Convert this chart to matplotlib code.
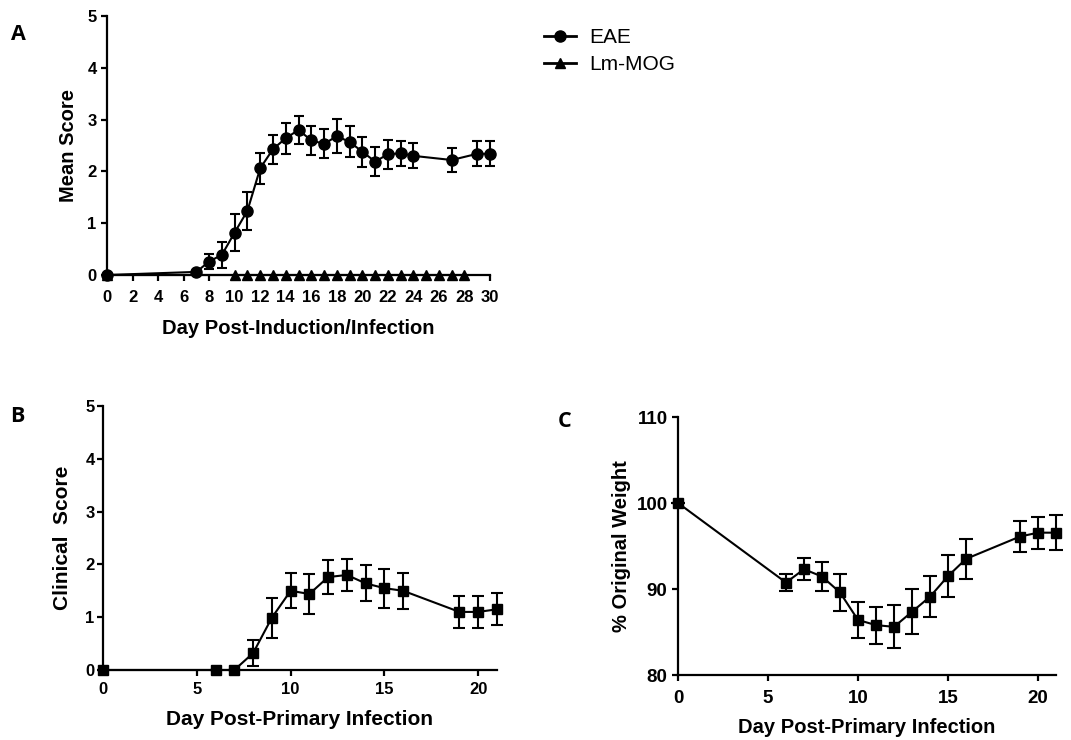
import numpy as np
import matplotlib
matplotlib.use("Agg")
import matplotlib.pyplot as plt
from matplotlib.lines import Line2D

plt.rcParams['font.family'] = ['Liberation Sans', 'DejaVu Sans']

# panel A: mean EAE score
eae_days = [0, 7, 8, 9, 10, 11, 12, 13, 14, 15, 16, 17, 18, 19, 20, 21, 22, 23, 24, 27, 29, 30]
eae_mean = [0.0, 0.06, 0.26, 0.39, 0.82, 1.24, 2.06, 2.43, 2.64, 2.8, 2.6, 2.53, 2.68, 2.57,
            2.38, 2.19, 2.33, 2.35, 2.3, 2.22, 2.34, 2.34]
eae_err = [0.0, 0.02, 0.15, 0.25, 0.35, 0.37, 0.3, 0.28, 0.3, 0.27, 0.28, 0.28, 0.33, 0.3,
           0.29, 0.28, 0.28, 0.24, 0.24, 0.23, 0.24, 0.24]
lm_days = [0] + list(range(10, 29))
lm_mean = [0.0] * len(lm_days)

# panel B: clinical score
b_days = [0, 6, 7, 8, 9, 10, 11, 12, 13, 14, 15, 16, 19, 20, 21]
b_mean = [0.0, 0.0, 0.0, 0.32, 0.99, 1.5, 1.44, 1.76, 1.8, 1.64, 1.55, 1.5, 1.1, 1.1, 1.15]
b_err = [0.0, 0.0, 0.0, 0.25, 0.38, 0.33, 0.37, 0.33, 0.31, 0.34, 0.37, 0.34, 0.3, 0.3, 0.3]

# panel C: weight
c_days = [0, 6, 7, 8, 9, 10, 11, 12, 13, 14, 15, 16, 19, 20, 21]
c_mean = [100.0, 90.75, 92.3, 91.45, 89.6, 86.4, 85.8, 85.6, 87.35, 89.1, 91.5, 93.5, 96.1, 96.55, 96.55]
c_err = [0.0, 0.95, 1.25, 1.65, 2.2, 2.1, 2.15, 2.5, 2.6, 2.4, 2.4, 2.3, 1.85, 1.85, 2.05]

W, H = 1071, 740
fig = plt.figure(figsize=(W / 100, H / 100), dpi=100)


def px_axes(x0, x1, ytop, ybot):
    return fig.add_axes([x0 / W, 1 - ybot / H, (x1 - x0) / W, (ybot - ytop) / H])


def style(ax, size, xpad, ypad):
    for s in ['top', 'right']:
        ax.spines[s].set_visible(False)
    for s in ['left', 'bottom']:
        ax.spines[s].set_linewidth(1.6)
    ax.tick_params(direction='out', length=4, width=1.6, labelsize=size)
    ax.tick_params(axis='x', pad=xpad)
    ax.tick_params(axis='y', pad=ypad)
    for lab in ax.get_xticklabels() + ax.get_yticklabels():
        lab.set_fontweight('bold')


def eb_kw(cap):
    return dict(color='black', linewidth=1.5, elinewidth=1.5, capsize=cap, capthick=1.5, clip_on=False)


# A
axA = px_axes(107, 490, 16, 275)
axA.errorbar(eae_days, eae_mean, yerr=eae_err, marker='o', markersize=8, zorder=3, **eb_kw(3.5))
axA.plot(lm_days, lm_mean, color='black', linewidth=1.5, marker='^', markersize=6.5,
         clip_on=False, zorder=4)
axA.set_xlim(0, 30)
axA.set_ylim(0, 5)
axA.set_xticks(np.arange(0, 31, 2))
axA.set_yticks(range(0, 6))
style(axA, 12, 6.5, 3.5)
axA.set_xlabel('Day Post-Induction/Infection', fontsize=14.5, fontweight='bold', labelpad=10.5)
axA.set_ylabel('Mean Score', fontsize=14.5, fontweight='bold', labelpad=7)

handles = [Line2D([], [], color='black', linewidth=2, marker='o', markersize=8),
           Line2D([], [], color='black', linewidth=2, marker='^', markersize=7)]
fig.legend(handles, ['EAE', 'Lm-MOG'], loc='upper left', bbox_to_anchor=(544 / W, 1 - 28 / H),
           frameon=False, fontsize=15, handlelength=1.55, handletextpad=0.62, labelspacing=0.4,
           borderpad=0, borderaxespad=0)

# B
axB = px_axes(103, 497, 406, 670)
axB.errorbar(b_days, b_mean, yerr=b_err, marker='s', markersize=7.5, **eb_kw(4))
axB.set_xlim(0, 21)
axB.set_ylim(0, 5)
axB.set_xticks([0, 5, 10, 15, 20])
axB.set_yticks(range(0, 6))
style(axB, 12, 5, 2)
axB.set_xlabel('Day Post-Primary Infection', fontsize=15, fontweight='bold', labelpad=9)
axB.set_ylabel('Clinical  Score', fontsize=15, fontweight='bold', labelpad=9.5)

# C
axC = px_axes(678, 1056, 417, 675)
axC.errorbar(c_days, c_mean, yerr=c_err, marker='s', markersize=7.5, **eb_kw(5))
axC.set_xlim(0, 21)
axC.set_ylim(80, 110)
axC.set_xticks([0, 5, 10, 15, 20])
axC.set_yticks([80, 90, 100, 110])
style(axC, 13.5, 6.5, 3.5)
axC.set_xlabel('Day Post-Primary Infection', fontsize=14.5, fontweight='bold', labelpad=8)
axC.set_ylabel('% Original Weight', fontsize=14.5, fontweight='bold', labelpad=4)

# panel letters
for letter, x, y in [('A', 11, 40), ('B', 10, 422), ('C', 558, 427)]:
    fig.text(x / W, 1 - y / H, letter, fontsize=15.5, fontweight='bold', family=['Open Sans', 'DejaVu Sans'],
             ha='left', va='baseline')

fig.savefig('out.png', dpi=100)
